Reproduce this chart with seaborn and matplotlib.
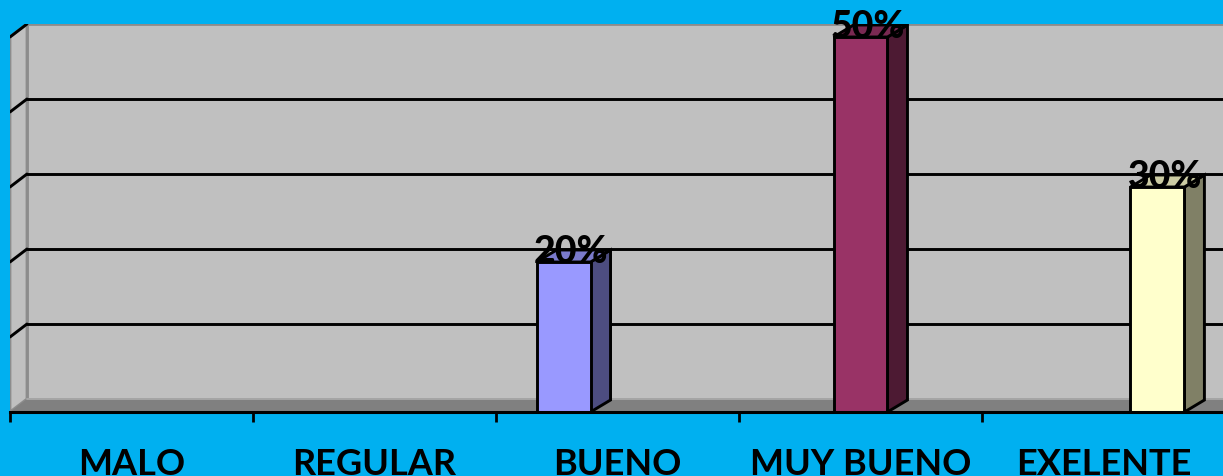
import numpy as np
import pandas as pd
import matplotlib
matplotlib.use("Agg")
import matplotlib.pyplot as plt
import seaborn as sns
from matplotlib.patches import Polygon
from matplotlib.colors import to_rgb

# --- data -------------------------------------------------------------
categorias = ["MALO", "REGULAR", "BUENO", "MUY BUENO", "EXELENTE"]
porcentajes = [0, 0, 20, 50, 30]
colores = ["#CCFFFF", "#660066", "#9999FF", "#993366", "#FFFFCC"]
niveles_grid = [10, 20, 30, 40, 50]

# --- style ------------------------------------------------------------
FONDO = "#00B0F0"
PARED = "#C0C0C0"
PISO = "#808080"
BORDE = "#8C8C8C"

sns.set_theme(style="white")
plt.rcParams["font.family"] = ["Lato", "DejaVu Sans"]

W, H = 1223, 477
fig = plt.figure(figsize=(W / 100, H / 100), dpi=100, facecolor=FONDO)

# front plane: x from px 10 (one category = 243 px), y 0 at px 413, 7.5 px per unit
px_cat, px_unit = 243.0, 7.5
x_left_px, y0_px = 10, 413
ymax = (y0_px - 25) / px_unit
ax = fig.add_axes([x_left_px / W, (H - y0_px) / H,
                   5 * px_cat / W, (y0_px - 25) / H])
ax.set_facecolor("none")
ax.set_xlim(-0.5, 4.5)
ax.set_ylim(0, ymax)

# depth offsets of the 3-D look (walls and bars)
wdx, wdy = 17 / px_cat, 13 / px_unit
bdx, bdy = 20 / px_cat, 12 / px_unit

# back wall, side wall and floor
ax.add_patch(Polygon([(-0.5 + wdx, wdy), (5.0, wdy), (5.0, ymax), (-0.5 + wdx, ymax)],
                     closed=True, facecolor=PARED, edgecolor=BORDE, lw=2, zorder=0))
ax.add_patch(Polygon([(-0.5, 0), (-0.5 + wdx, wdy), (-0.5 + wdx, ymax), (-0.5, ymax - wdy)],
                     closed=True, facecolor=PARED, edgecolor=BORDE, lw=2, zorder=0.5))
ax.add_patch(Polygon([(-0.5, 0), (5.0, 0), (5.0, wdy), (-0.5 + wdx, wdy)],
                     closed=True, facecolor=PISO, edgecolor="none", zorder=0.6))
ax.plot([-0.5 + wdx, 5.0], [wdy, wdy], color="#A6A6A6", lw=1.4, zorder=0.7)

# gridlines on the back wall and their continuation on the side wall
for v in niveles_grid:
    if v < 50:
        ax.plot([-0.5 + wdx, 5.0], [v + wdy, v + wdy], color="black", lw=2.1, zorder=1)
    ax.plot([-0.5, -0.5 + wdx], [v, v + wdy], color="black", lw=2.1, zorder=1)

# front faces of the columns (perspective spreads them about the 4th category)
idx = np.arange(len(categorias))
posiciones = 3 + 1.222 * (idx - 3)
df = pd.DataFrame({"pos": posiciones, "valor": porcentajes, "categoria": categorias})
sns.barplot(data=df, x="pos", y="valor", hue="categoria", palette=colores,
            native_scale=True, width=0.222 / 1.222, legend=False,
            edgecolor="black", linewidth=2.1, saturation=1, ax=ax, zorder=3)


def sombra(color, f):
    r, g, b = to_rgb(color)
    return (r * f, g * f, b * f)


for p in ax.patches:
    if not hasattr(p, "get_height") or p.get_height() <= 0 or p.zorder != 3:
        continue
    x0, w, h = p.get_x(), p.get_width(), p.get_height()
    c = p.get_facecolor()
    ax.add_patch(Polygon([(x0 + w, 0), (x0 + w + bdx, bdy), (x0 + w + bdx, h + bdy), (x0 + w, h)],
                         closed=True, facecolor=sombra(c, 0.5), edgecolor="black",
                         lw=2.1, zorder=2.9))
    ax.add_patch(Polygon([(x0, h), (x0 + bdx, h + bdy), (x0 + w + bdx, h + bdy), (x0 + w, h)],
                         closed=True, facecolor=sombra(c, 0.8), edgecolor="black",
                         lw=2.1, zorder=2.9))
    ax.text(x0 + (w + bdx) / 2 - 0.01, h, f"{h:.0f}%", ha="center", va="baseline",
            fontsize=27, fontweight="black", color="black", zorder=5)

# axis: black front line with boundary ticks, category names below
for s in ["left", "right", "top"]:
    ax.spines[s].set_visible(False)
ax.spines["bottom"].set_color("black")
ax.spines["bottom"].set_linewidth(2.2)
ax.spines["bottom"].set_zorder(4)
ax.set_xticks(idx, categorias)
ax.set_xticks(np.arange(-0.5, 5.0, 1.0), minor=True)
ax.tick_params(axis="x", which="major", length=0, pad=25, labelsize=26,
               labelcolor="black")
ax.tick_params(axis="x", which="minor", length=7, width=2, color="black",
               direction="out", bottom=True)
for t in ax.get_xticklabels():
    t.set_fontweight("bold")
ax.set_yticks([])
ax.set_xlabel("")
ax.set_ylabel("")
ax.grid(False)

fig.savefig("out.png", dpi=100, facecolor=FONDO)
